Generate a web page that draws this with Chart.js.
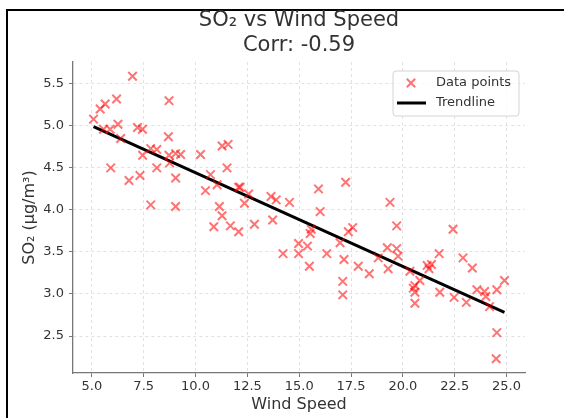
<!DOCTYPE html>
<html>
<head>
<meta charset="utf-8">
<script src="https://cdn.jsdelivr.net/npm/chart.js@4.4.0/dist/chart.umd.min.js"></script>
<style>
  html, body { margin: 0; padding: 0; background: #fff; }
  #wrap { position: relative; width: 564px; height: 418px; overflow: hidden; }
  #frame { position: absolute; left: 6px; top: 9px; width: 600px; height: 500px;
           border-left: 2px solid #000; border-top: 2px solid #000; }
  #chart { position: absolute; left: 0; top: 0; }
</style>
</head>
<body>
<div id="wrap">
  <div id="frame"></div>
  <canvas id="chart" width="564" height="418"></canvas>
</div>
<script>
// Wind speed vs SO2 readings
const windSpeed = [
  5.08, 5.40, 5.56, 5.64, 5.88, 5.91, 6.19, 6.26, 6.39, 6.79,
  6.96, 7.20, 7.32, 7.44, 7.45, 7.84, 7.84, 8.13, 8.13, 8.69,
  8.72, 8.72, 8.75, 9.04, 9.04, 9.04, 9.28, 10.24, 10.48, 10.72,
  10.88, 11.04, 11.15, 11.28, 11.28, 11.52, 11.57, 11.68, 12.08, 12.08,
  12.15, 12.36, 12.56, 12.84, 13.64, 13.72, 13.89, 14.22, 14.53, 14.97,
  14.97, 15.40, 15.49, 15.53, 15.58, 15.93, 16.01, 16.33, 16.97, 17.10,
  17.10, 17.16, 17.24, 17.37, 17.58, 17.85, 18.38, 18.81, 19.25, 19.29,
  19.38, 19.70, 19.70, 19.77, 20.34, 20.50, 20.58, 20.58, 20.58, 20.82,
  21.17, 21.26, 21.38, 21.75, 21.78, 22.42, 22.47, 22.90, 23.06, 23.35,
  23.57, 23.94, 24.00, 24.18, 24.50, 24.53, 24.53, 24.90
];
const so2 = [
  5.08, 5.20, 4.96, 5.26, 4.96, 4.50, 5.32, 5.02, 4.85, 4.35,
  5.59, 4.98, 4.41, 4.96, 4.65, 4.73, 4.06, 4.72, 4.50, 4.87,
  5.30, 4.65, 4.56, 4.67, 4.38, 4.04, 4.66, 4.66, 4.23, 4.42,
  3.80, 4.30, 4.04, 4.76, 3.93, 4.50, 4.78, 3.81, 4.27, 3.74,
  4.27, 4.08, 4.19, 3.83, 4.16, 3.88, 4.12, 3.48, 4.09, 3.60,
  3.48, 3.57, 3.33, 3.72, 3.77, 4.25, 3.98, 3.48, 3.61, 3.15,
  2.99, 3.41, 4.33, 3.74, 3.79, 3.33, 3.24, 3.43, 3.55, 3.30,
  4.09, 3.81, 3.54, 3.45, 3.27, 3.07, 3.10, 3.02, 2.89, 3.16,
  3.34, 3.30, 3.35, 3.48, 3.02, 3.77, 2.96, 3.43, 2.90, 3.31,
  3.05, 3.03, 2.97, 2.85, 2.23, 3.05, 2.54, 3.16
];
// fitted line end points
const trendX = [5.08, 24.90];
const trendY = [4.99, 2.78];

const xTicks = [5, 7.5, 10, 12.5, 15, 17.5, 20, 22.5, 25];
const yTicks = [2.5, 3.0, 3.5, 4.0, 4.5, 5.0, 5.5];

const FONT = 'DejaVu Sans';
const TEXT = '#333';
const markerColor = 'rgba(255, 0, 0, 0.55)';

// titles, axis labels and legend box
const textPlugin = {
  id: 'texts',
  afterDraw(chart) {
    const ctx = chart.ctx;
    const area = chart.chartArea;
    ctx.save();
    ctx.fillStyle = TEXT;
    ctx.textAlign = 'center';
    ctx.textBaseline = 'middle';
    ctx.font = '21px "' + FONT + '"';
    const cx = (area.left + area.right) / 2;
    ctx.fillText('SO\u2082 vs Wind Speed', cx, 21);
    ctx.fillText('Corr: -0.59', cx, 46);

    ctx.font = '16px "' + FONT + '"';
    ctx.fillText('Wind Speed', cx, 405);
    ctx.save();
    ctx.translate(30, (area.top + area.bottom) / 2);
    ctx.rotate(-Math.PI / 2);
    ctx.fillText('SO\u2082 (\u03bcg/m\u00b3)', 0, 0);
    ctx.restore();

    // legend
    const lx = 393, ly = 71, lw = 126, lh = 45;
    ctx.beginPath();
    ctx.roundRect(lx, ly, lw, lh, 3);
    ctx.fillStyle = 'rgba(255,255,255,0.8)';
    ctx.fill();
    ctx.strokeStyle = '#d4d4d4';
    ctx.lineWidth = 1;
    ctx.stroke();

    ctx.strokeStyle = markerColor;
    ctx.lineWidth = 2;
    ctx.beginPath();
    const r = 4.2;
    ctx.moveTo(411 - r, 83 - r); ctx.lineTo(411 + r, 83 + r);
    ctx.moveTo(411 - r, 83 + r); ctx.lineTo(411 + r, 83 - r);
    ctx.stroke();

    ctx.strokeStyle = '#000';
    ctx.lineWidth = 3;
    ctx.beginPath();
    ctx.moveTo(397, 103); ctx.lineTo(426, 103);
    ctx.stroke();

    ctx.fillStyle = TEXT;
    ctx.textAlign = 'left';
    ctx.font = '13px "' + FONT + '"';
    ctx.fillText('Data points', 436, 83);
    ctx.fillText('Trendline', 436, 103);
    ctx.restore();
  }
};

new Chart(document.getElementById('chart'), {
  type: 'scatter',
  data: {
    datasets: [
      {
        label: 'Data points',
        data: windSpeed.map((x, i) => ({ x: x, y: so2[i] })),
        pointStyle: 'crossRot',
        pointRadius: 6,
        pointHoverRadius: 6,
        borderWidth: 2,
        borderColor: markerColor,
        backgroundColor: markerColor
      },
      {
        type: 'line',
        label: 'Trendline',
        data: trendX.map((x, i) => ({ x: x, y: trendY[i] })),
        borderColor: '#000',
        borderWidth: 3,
        pointRadius: 0,
        fill: false
      }
    ]
  },
  options: {
    responsive: false,
    animation: false,
    devicePixelRatio: 1,
    layout: { padding: { top: 62, right: 39, left: 0, bottom: 0 } },
    plugins: { legend: { display: false }, tooltip: { enabled: false } },
    scales: {
      x: {
        type: 'linear',
        min: 4.09,
        max: 25.89,
        afterBuildTicks: s => { s.ticks = xTicks.map(v => ({ value: v })); },
        afterFit: s => { s.height = 45; },
        ticks: {
          callback: v => Number(v).toFixed(1),
          color: TEXT,
          font: { family: FONT, size: 13 },
          padding: 2,
          maxRotation: 0
        },
        grid: { color: '#e2e2e2', tickColor: '#777', tickLength: 4 },
        border: { color: '#777', width: 1.3, dash: [3, 3] }
      },
      y: {
        type: 'linear',
        min: 2.06,
        max: 5.76,
        afterBuildTicks: s => { s.ticks = yTicks.map(v => ({ value: v })); },
        afterFit: s => { s.width = 73; },
        ticks: {
          callback: v => Number(v).toFixed(1),
          color: TEXT,
          font: { family: FONT, size: 13 },
          padding: 5
        },
        grid: { color: '#e2e2e2', tickColor: '#777', tickLength: 4 },
        border: { color: '#777', width: 1.3, dash: [3, 3] }
      }
    }
  },
  plugins: [textPlugin]
});
</script>
</body>
</html>
